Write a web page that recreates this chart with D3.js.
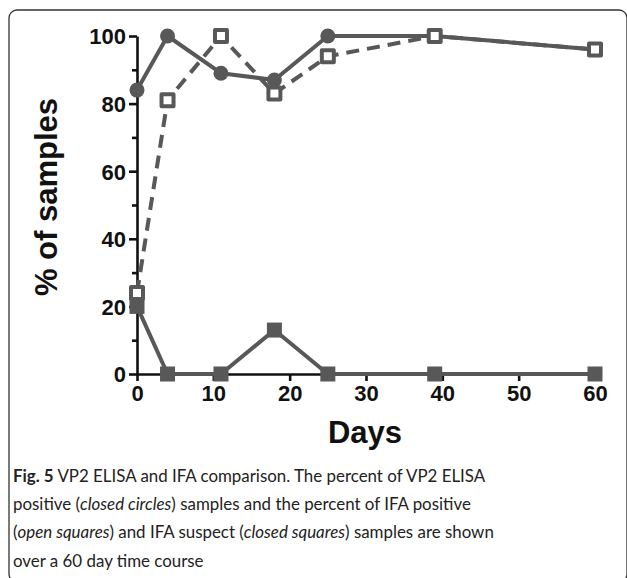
<!DOCTYPE html>
<html>
<head>
<meta charset="utf-8">
<script src="https://cdn.jsdelivr.net/npm/d3@7"></script>
<style>
    body{margin:0;background:#fff;}
    svg{display:block;}
</style>
</head>
<body>
<div id="chart"></div>
<script>

//数据
var days = [0, 4, 11, 18, 25, 39, 60];
var elisaPositive = [84, 100, 89, 87, 100, 100, 96];    //实心圆
var ifaPositive = [24, 81, 100, 83, 94, 100, 96];       //空心方块
var ifaSuspect = [20, 0, 0, 13, 0, 0, 0];               //实心方块
var xTicks = [0, 10, 20, 30, 40, 50, 60];
var yTicks = [0, 20, 40, 60, 80, 100];
var yMinorTicks = [10, 30, 50, 70, 90];

//图注，每行若干段 [文字, 样式]
var captionLines = [
    [["Fig. 5", "b"], [" VP2 ELISA and IFA comparison. The percent of VP2 ELISA", ""]],
    [["positive (", ""], ["closed circles", "i"], [") samples and the percent of IFA positive", ""]],
    [["(", ""], ["open squares", "i"], [") and IFA suspect (", ""], ["closed squares", "i"], [") samples are shown", ""]],
    [["over a 60 day time course", ""]]
];
var captionWidths = [474, 450, 480, 194];

var W = 627, H = 578;
var grey = "#585858";
var axisFont = "'Liberation Sans', Arial, sans-serif";

var svg = d3.select("#chart").append("svg")
    .attr("width", W)
    .attr("height", H);

//外框
svg.append("rect")
    .attr("x", 9).attr("y", 10)
    .attr("width", 618).attr("height", 572)
    .attr("rx", 8)
    .attr("fill", "none")
    .attr("stroke", "#333")
    .attr("stroke-width", 1.3);

var x = d3.scaleLinear().domain([0, 60]).range([137, 595]);
var y = d3.scaleLinear().domain([0, 100]).range([374, 36]);

//y轴
var yAxis = svg.append("g")
    .attr("transform", "translate(" + x(0) + ",0)")
    .call(d3.axisLeft(y).tickValues(yTicks).tickSize(8).tickSizeOuter(0).tickPadding(3));
svg.append("g")
    .attr("transform", "translate(" + x(0) + ",0)")
    .call(d3.axisLeft(y).tickValues(yMinorTicks).tickSize(5).tickSizeOuter(0).tickFormat(""))
    .select(".domain").remove();

//x轴
var xAxis = svg.append("g")
    .attr("transform", "translate(0," + y(0) + ")")
    .call(d3.axisBottom(x).tickValues(xTicks).tickSize(7).tickSizeOuter(0).tickPadding(4));

svg.selectAll(".tick line, .domain")
    .attr("stroke", "#111")
    .attr("stroke-width", 2.6);
svg.selectAll(".tick text")
    .attr("fill", "#111")
    .style("font-family", axisFont)
    .style("font-weight", "bold")
    .style("font-size", "22px");
yAxis.selectAll(".tick text").attr("dy", "0.36em");

//轴标题
svg.append("text")
    .attr("x", 365).attr("y", 443)
    .attr("text-anchor", "middle")
    .style("font-family", axisFont)
    .style("font-weight", "bold")
    .style("font-size", "31px")
    .attr("fill", "#111")
    .text("Days");

svg.append("text")
    .attr("transform", "translate(57,197) rotate(-90)")
    .attr("text-anchor", "middle")
    .style("font-family", axisFont)
    .style("font-weight", "bold")
    .style("font-size", "31px")
    .attr("fill", "#111")
    .text("% of samples");

//画一条序列
function drawSeries(values, marker, dashed) {
    var pts = days.map(function (d, i) {
        return [d, values[i]];
    });
    var g = svg.append("g");
    var line = d3.line()
        .x(function (d) { return x(d[0]); })
        .y(function (d) { return y(d[1]); });
    g.append("path")
        .attr("d", line(pts))
        .attr("fill", "none")
        .attr("stroke", grey)
        .attr("stroke-width", 4)
        .attr("stroke-linejoin", "round")
        .attr("stroke-dasharray", dashed ? "13,8" : null);

    if (marker == "circle") {
        g.selectAll("circle").data(pts)
            .enter().append("circle")
            .attr("cx", function (d) { return x(d[0]); })
            .attr("cy", function (d) { return y(d[1]); })
            .attr("r", 7.5)
            .attr("fill", grey);
    } else {
        var s = marker == "open" ? 12 : 15;
        g.selectAll("rect").data(pts)
            .enter().append("rect")
            .attr("x", function (d) { return x(d[0]) - s / 2; })
            .attr("y", function (d) { return y(d[1]) - s / 2; })
            .attr("width", s)
            .attr("height", s)
            .attr("fill", marker == "open" ? "#fff" : grey)
            .attr("stroke", marker == "open" ? grey : "none")
            .attr("stroke-width", 4)
            .attr("stroke-linejoin", "round");
    }
}

drawSeries(ifaSuspect, "filled", false);
drawSeries(elisaPositive, "circle", false);
drawSeries(ifaPositive, "open", true);

//图注，按量出的宽度调整字号
var capTexts = captionLines.map(function (segs, i) {
    var t = svg.append("text")
        .attr("x", 13).attr("y", 482 + i * 28.2)
        .style("font-family", "Lato, 'Open Sans', sans-serif")
        .style("font-size", "18px")
        .attr("fill", "#222");
    segs.forEach(function (s) {
        t.append("tspan").text(s[0])
            .style("font-weight", s[1] == "b" ? "bold" : null)
            .style("font-style", s[1] == "i" ? "italic" : null);
    });
    return t;
});
var ratio = d3.mean(capTexts, function (t, i) {
    return captionWidths[i] / t.node().getComputedTextLength();
});
capTexts.forEach(function (t) {
    t.style("font-size", (18 * ratio).toFixed(2) + "px");
});

</script>
</body>
</html>
